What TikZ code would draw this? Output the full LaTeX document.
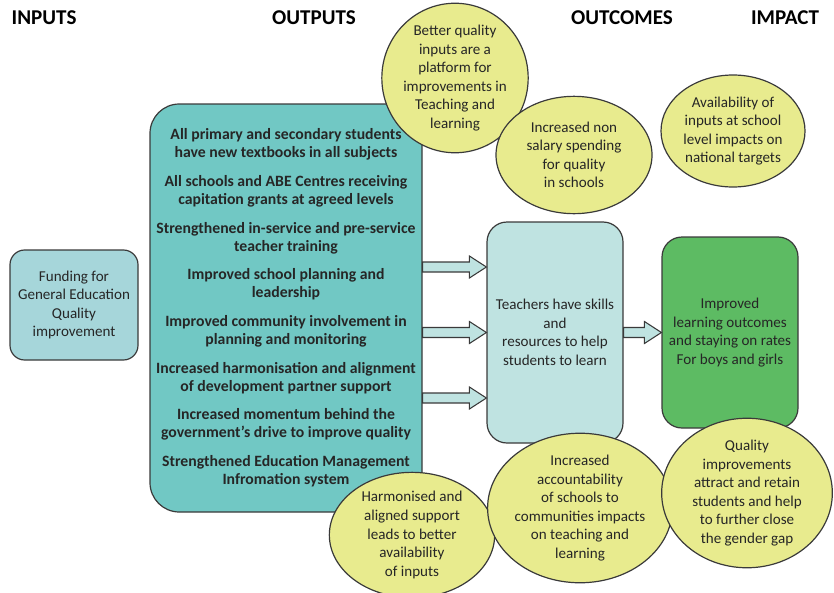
\documentclass[tikz,border=0pt]{standalone}
\usepackage{fontspec}
\setmainfont{Carlito}
\usepackage{xcolor}
\usepackage{tikz}
\usetikzlibrary{shapes.geometric, calc}

\definecolor{inputfill}{HTML}{A6D6DA}
\definecolor{outputfill}{HTML}{71C8C4}
\definecolor{teachfill}{HTML}{BFE3E1}
\definecolor{impactfill}{HTML}{5DBB63}
\definecolor{bubblefill}{HTML}{E8EB8E}
\definecolor{edgecol}{HTML}{3A3A3A}
\definecolor{ink}{HTML}{262626}

\begin{document}
\begin{tikzpicture}[x=0.75pt, y=-0.75pt,
    every node/.style={text=ink, align=center, font=\fontsize{11.3}{13.9}\selectfont},
    header/.style={text=black, font=\fontsize{15.8}{18}\selectfont\bfseries},
    box/.style={draw=edgecol, line width=0.9pt, rectangle, rounded corners=#1, inner sep=2pt},
    bubble/.style={draw=edgecol, line width=0.9pt, ellipse, fill=bubblefill, inner sep=0pt},
    blockarrow/.style={draw=edgecol, line width=0.8pt, fill=teachfill,
        to path={let \p1=(\tikztostart), \p2=(\tikztotarget) in
            (\x1,\y1-3.75pt) -- (\x2-12.75pt,\y1-3.75pt) -- (\x2-12.75pt,\y1-8.25pt)
            -- (\x2,\y1) -- (\x2-12.75pt,\y1+8.25pt) -- (\x2-12.75pt,\y1+3.75pt)
            -- (\x1,\y1+3.75pt) -- cycle}}
]
\useasboundingbox (0,0) rectangle (834,592);

% column headings
\node[header, anchor=west] (hin)  at (7,18)   {INPUTS};
\node[header]              (hout) at (314,18) {OUTPUTS};
\node[header]              (hoc)  at (622,18) {OUTCOMES};
\node[header]              (him)  at (785,18) {IMPACT};

% main boxes
\node[box=11pt, fill=inputfill, minimum width=96pt, minimum height=82.5pt] (fund) at (74,305)
    {Funding for\\General Education\\Quality\\improvement};

\node[box=22pt, fill=outputfill, minimum width=204pt, minimum height=306pt,
      font=\fontsize{11.8}{13.5}\selectfont\bfseries] (outs) at (286,308)
    {All primary and secondary students\\have new textbooks in all subjects\\[8pt]
     All schools and ABE Centres receiving\\capitation grants at agreed levels\\[8pt]
     Strengthened in-service and pre-service\\teacher training\\[8pt]
     Improved school planning and\\leadership\\[8pt]
     Improved community involvement in\\planning and monitoring\\[8pt]
     Increased harmonisation and alignment\\of development partner support\\[8pt]
     Increased momentum behind the\\government’s drive to improve quality\\[8pt]
     Strengthened Education Management\\Infromation system};

\node[box=15pt, fill=teachfill, minimum width=102pt, minimum height=165.75pt] (teach) at (555,332.5)
    {Teachers have skills\\and\\resources to help\\students to learn};

\node[box=15pt, fill=impactfill, minimum width=102pt, minimum height=143.25pt] (learn) at (730,332.5)
    {Improved\\learning outcomes\\and staying on rates\\For boys and girls};

% block arrows
\coordinate (r1) at (0,267);
\coordinate (r3) at (0,398);
\draw[blockarrow] (outs.east |- r1) to (teach.west |- r1);
\draw[blockarrow] (outs.east |- teach.west) to (teach.west);
\draw[blockarrow] (outs.east |- r3) to (teach.west |- r3);
\draw[blockarrow] (teach.east) to (teach.east -| learn.west);

% bubbles
\node[bubble, minimum width=105pt, minimum height=96pt] (b1) at (455,78)
    {Better quality\\inputs are a\\platform for\\improvements in\\Teaching and\\learning};
\node[bubble, minimum width=117pt, minimum height=88pt] (b2) at (574,155)
    {Increased non\\salary spending\\for quality\\in schools};
\node[bubble, minimum width=108pt, minimum height=84pt] (b3) at (733,131)
    {Availability of\\inputs at school\\level impacts on\\national targets};
\node[bubble, minimum width=124pt, minimum height=94pt] (b4) at (412,535)
    {Harmonised and\\aligned support\\leads to better\\availability\\of inputs};
\node[bubble, minimum width=130pt, minimum height=97pt] (b5) at (580,508)
    {Increased\\accountability\\of schools to\\communities impacts\\on teaching and\\learning};
\node[bubble, minimum width=128pt, minimum height=97pt] (b6) at (747,493)
    {Quality\\improvements\\attract and retain\\students and help\\to further close\\the gender gap};
\end{tikzpicture}
\end{document}
